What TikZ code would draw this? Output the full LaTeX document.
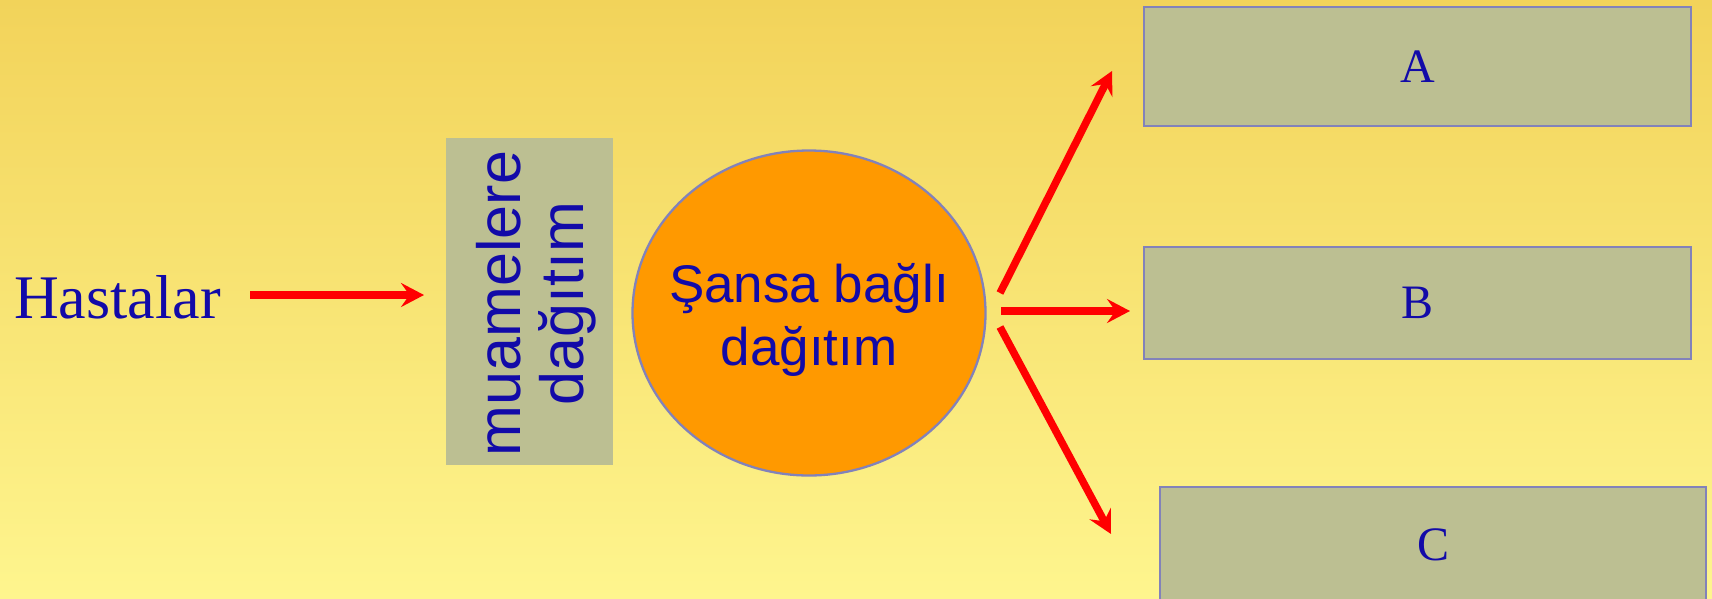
\documentclass[tikz,border=0pt]{standalone}
\usepackage{fontspec}
\setmainfont{Liberation Serif}
\setsansfont{Liberation Sans}
\usetikzlibrary{arrows.meta,shapes.geometric}

\definecolor{bgtop}{RGB}{242,211,90}
\definecolor{bgbot}{RGB}{254,245,142}
\definecolor{inkblue}{RGB}{18,10,168}
\definecolor{khaki}{RGB}{188,191,146}
\definecolor{edgeblue}{RGB}{130,130,186}
\definecolor{chanceorange}{RGB}{255,153,0}
\definecolor{flowred}{RGB}{255,0,0}

\tikzset{
  seriflabel/.style={text=inkblue, inner sep=0pt, font=\rmfamily\fontsize{62}{74}\selectfont},
  groupbox/.style={draw=edgeblue, line width=2.8pt, fill=khaki, inner sep=0pt,
                   text=inkblue, font=\rmfamily\fontsize{48}{56}\selectfont},
  allocbox/.style={fill=khaki, inner sep=0pt},
  chancenode/.style={ellipse, draw=edgeblue, line width=2.3pt, fill=chanceorange, inner sep=0pt},
  sanslabel/.style={text=inkblue, inner sep=0pt, align=center},
  flow/.style={draw=flowred, line width=7.5pt,
               -{Stealth[length=23pt, width=24pt, inset=8.5pt]}},
}

\begin{document}
\begin{tikzpicture}[x=1pt, y=-1pt]
  % page frame and background gradient
  \useasboundingbox (0,0) rectangle (1712,598);
  \clip (0,0) rectangle (1712,598);
  \shade[top color=bgtop, bottom color=bgbot] (0,0) rectangle (1712,598);

  % patients
  \node[seriflabel, anchor=base west] (H) at (14,318) {Hastalar};

  % allocation to treatments (vertical bar)
  \node[allocbox, minimum width=167pt, minimum height=327pt] (M) at (529.6,301.4) {};
  \node[sanslabel, rotate=90, font=\sffamily\fontsize{61}{63}\selectfont]
        (Mtext) at (536.5,303.5) {muamelere\\dağıtım};

  % random allocation
  \node[chancenode, minimum width=353pt, minimum height=325pt] (E) at (809,313) {};
  \node[sanslabel, font=\sffamily\fontsize{53}{63}\selectfont]
        (Etext) at (809,319.5) {Şansa bağlı\\dağıtım};

  % treatment groups
  \node[groupbox, minimum width=547pt, minimum height=119pt] (A) at (1417.5,66.5) {A};
  \node[groupbox, minimum width=547pt, minimum height=112pt] (B) at (1417.5,303) {B};
  \node[groupbox, minimum width=546pt, minimum height=116pt] (C) at (1433,545) {C};

  % arrow end points
  \coordinate (hs) at (250,295);
  \coordinate (he) at (424,295);
  \coordinate (us) at (1000,293);
  \coordinate (ue) at (1112,71);
  \coordinate (ms) at (1001,311);
  \coordinate (me) at (1130,311);
  \coordinate (ls) at (1000,327);
  \coordinate (le) at (1111,534);

  % arrows
  \draw[flow] (hs) -- (he);
  \draw[flow] (us) -- (ue);
  \draw[flow] (ms) -- (me);
  \draw[flow] (ls) -- (le);
\end{tikzpicture}
\end{document}
